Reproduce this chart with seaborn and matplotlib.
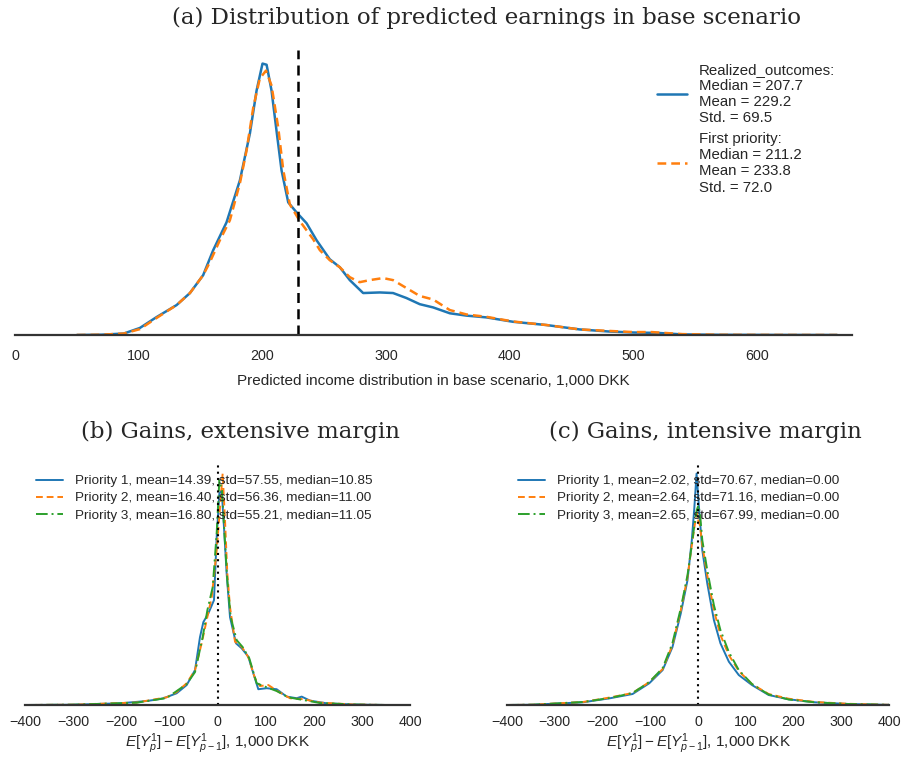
import numpy as np
import pandas as pd
import matplotlib
matplotlib.use("Agg")
import matplotlib.pyplot as plt
import seaborn as sns

# ---------------- Panel (a): predicted earnings, base scenario ----------------
# Kernel density estimates (density values in units of 1e-3 per 1,000 DKK)
income_realized = [50, 70, 88, 101, 114.5, 130.7, 141.5, 152.2, 160.3, 171.1, 181.9, 190,
                   195.4, 200.2, 203.5, 207.5, 211.5, 215.6, 221, 227.7, 235.8, 243.9, 254.6,
                   262.7, 270.8, 281.6, 295.1, 305.8, 316.6, 327.4, 338.2, 351.7, 365.2,
                   381.3, 402.9, 429.8, 456.7, 480, 500, 520, 540, 570, 620, 665]
density_realized = [0, 0.01, 0.05, 0.24, 0.61, 1.02, 1.43, 2.04, 2.89, 3.84, 5.27, 6.87,
                    8.33, 9.25, 9.21, 8.33, 6.97, 5.61, 4.52, 4.18, 3.81, 3.23, 2.58,
                    2.31, 1.87, 1.43, 1.45, 1.43, 1.26, 1.05, 0.94, 0.74, 0.66,
                    0.60, 0.45, 0.34, 0.19, 0.12, 0.085, 0.07, 0.02, 0.007, 0.002, 0]

income_first = [50, 70, 88, 101, 114.5, 130.7, 141.5, 152.2, 157.6, 165.7, 173.8, 181.9,
                187.3, 192.7, 198, 203, 207.5, 212.9, 217, 222.3, 230.4, 241.2, 246.6,
                254.6, 262.7, 270.8, 278.8, 286.9, 297.7, 305.8, 316.6, 327.4, 338.2,
                351.7, 365.2, 381.3, 402.9, 429.8, 456.7, 480, 500, 515, 540, 570, 620, 665]
density_first = [0, 0.01, 0.05, 0.20, 0.58, 1.02, 1.43, 2.04, 2.48, 3.23, 3.91, 5.17,
                 6.29, 7.75, 8.74, 9.01, 8.50, 7.07, 5.61, 4.45, 3.88, 3.26, 2.89,
                 2.55, 2.31, 1.97, 1.80, 1.87, 1.94, 1.87, 1.60, 1.33, 1.21,
                 0.85, 0.70, 0.62, 0.46, 0.34, 0.19, 0.14, 0.10, 0.10, 0.03, 0.007, 0.002, 0]

mean_realized = 229.2
labels_a = ["Realized_outcomes:\nMedian = 207.7\nMean = 229.2\nStd. = 69.5",
            "First priority:\nMedian = 211.2\nMean = 233.8\nStd. = 72.0"]

# ---------------- Panel (b): gains, extensive margin ----------------
ext_x1 = [-400, -300, -202.6, -147, -133, -112.5, -85, -64, -46.7, -36.4, -29.4, -19, -7.3,
          -1.7, 3.8, 8.7, 13.5, 19, 26, 38.4, 50.2, 64, 74.4, 84.8, 102, 122.9, 143.7,
          164.5, 174.9, 192.2, 226.8, 282, 351, 400]
ext_y1 = [0, 0.015, 0.085, 0.2, 0.25, 0.335, 0.585, 1.0, 1.75, 3.4, 4.15, 4.59, 5.25,
          8.4, 10.59, 10.75, 8.9, 6.59, 4.4, 3.09, 2.84, 2.42, 1.59, 0.79, 0.84, 0.79, 0.42,
          0.34, 0.42, 0.22, 0.085, 0.025, 0, 0]
ext_x2 = [-400, -300, -168, -105.6, -85, -64, -46.7, -32.9, -22.5, -12, -1.7, 5.2, 10.7,
          15.6, 20.4, 26, 36.4, 50.2, 64, 77.9, 88.3, 105.6, 126.4, 150.6, 178.3, 213, 282,
          351, 400]
ext_y2 = [0, 0.015, 0.125, 0.385, 0.65, 1.09, 1.75, 3.09, 4.25, 5.4, 7.75, 9.9, 11.59,
          9.25, 6.59, 4.9, 3.17, 2.92, 2.4, 1.34, 0.95, 1.0, 0.67, 0.34, 0.29, 0.12, 0.025,
          0, 0]
ext_x3 = [-400, -300, -168, -105.6, -64, -46.7, -30.8, -21, -10, -1.7, 3.8, 9.3, 14.9,
          20.4, 27.4, 39.8, 52.3, 66, 81.4, 98.7, 122.9, 147, 178.3, 213, 282, 351, 400]
ext_y3 = [0, 0.015, 0.115, 0.35, 1.05, 1.65, 3.4, 4.75, 5.9, 8.6, 11.25, 10.75, 8.4,
          6.25, 4.4, 3.25, 2.9, 2.34, 1.09, 0.92, 0.7, 0.385, 0.25, 0.1, 0.025, 0, 0]
labels_b = ["Priority 1, mean=14.39, std=57.55, median=10.85",
            "Priority 2, mean=16.40, std=56.36, median=11.00",
            "Priority 3, mean=16.80, std=55.21, median=11.05"]

# ---------------- Panel (c): gains, intensive margin ----------------
int_x1 = [-400, -345, -241, -185, -137, -102, -74, -53.5, -36, -22, -13, -7.6, -3, 2, 9,
          19.4, 33.3, 47, 64.6, 85.4, 113, 148, 190, 245, 315, 384, 400]
int_y1 = [0, 0.015, 0.135, 0.335, 0.55, 1.09, 1.75, 2.9, 4.59, 6.25, 8.25, 9.9, 11.59,
          9.9, 7.75, 6.09, 4.25, 3.09, 2.17, 1.5, 1.0, 0.5, 0.285, 0.135, 0.05, 0.015, 0.01]
int_x2 = [-400, -345, -241, -185, -137, -102, -74, -53.5, -36, -22, -13, -7.6, -2.8, 0.5,
          4, 9, 19.4, 33.3, 47, 64.6, 85.4, 113, 148, 190, 245, 315, 384, 400]
int_y2 = [0, 0.015, 0.15, 0.375, 0.6, 1.15, 1.8, 3.0, 4.75, 6.4, 8.0, 8.9, 9.6, 9.25,
          9.0, 8.0, 6.5, 4.75, 3.5, 2.5, 1.7, 1.05, 0.55, 0.315, 0.15, 0.06, 0.015, 0.01]
int_x3 = [-400, -345, -241, -185, -137, -102, -74, -53.5, -36, -22, -13, -7.6, -2.8, 1,
          4.5, 9, 19.4, 33.3, 47, 64.6, 85.4, 113, 148, 190, 245, 315, 384, 400]
int_y3 = [0, 0.015, 0.15, 0.35, 0.6, 1.15, 1.85, 3.1, 4.85, 6.5, 8.0, 9.0, 9.75, 10.0,
          9.5, 8.25, 6.75, 5.0, 3.75, 2.65, 1.75, 1.05, 0.525, 0.275, 0.135, 0.05, 0.015, 0.01]
labels_c = ["Priority 1, mean=2.02, std=70.67, median=0.00",
            "Priority 2, mean=2.64, std=71.16, median=0.00",
            "Priority 3, mean=2.65, std=67.99, median=0.00"]

# ---------------- Styling ----------------
sns.set_style("white")
plt.rcParams["font.family"] = ["Liberation Sans", "DejaVu Sans"]
plt.rcParams["mathtext.fontset"] = "custom"
plt.rcParams["mathtext.rm"] = "Liberation Sans"
plt.rcParams["mathtext.it"] = "Liberation Sans:italic"
plt.rcParams["axes.unicode_minus"] = True

palette = sns.color_palette("tab10")
blue, orange, green = palette[0], palette[1], palette[2]
styles = [(blue, "-"), (orange, (0, (3.5, 2.0))), (green, (0, (6, 2, 1, 2)))]

fig = plt.figure(figsize=(9.04, 7.6), dpi=100)
W, H = 904, 760
TXT = "#262626"


def rect(x0, y0, x1, y1):
    return [x0 / W, 1 - y1 / H, (x1 - x0) / W, (y1 - y0) / H]


def long_frame(series):
    frames = []
    for i, (xs, ys) in enumerate(series):
        frames.append(pd.DataFrame({"x": xs, "y": np.asarray(ys) * 1e-3, "series": i}))
    return pd.concat(frames, ignore_index=True)


def style_axis(ax, pad):
    sns.despine(ax=ax, left=True)
    ax.set_yticks([])
    ax.set_ylabel("")
    ax.spines["bottom"].set_color("#333333")
    ax.spines["bottom"].set_linewidth(1.6)
    ax.tick_params(axis="x", length=0, pad=pad, labelsize=10.3, colors=TXT)


def draw_lines(ax, df, lw):
    handles = []
    for i, grp in df.groupby("series"):
        c, ls = styles[i]
        sns.lineplot(data=grp, x="x", y="y", ax=ax, color=c, linestyle=ls,
                     linewidth=lw, sort=False, estimator=None)
        handles.append(ax.lines[-1])
    return handles


# ---- (a) ----
ax_a = fig.add_axes(rect(15, 50, 852, 335))
df_a = long_frame([(income_realized, density_realized), (income_first, density_first)])
h_a = draw_lines(ax_a, df_a, 1.8)
ax_a.axvline(mean_realized, color="black", linestyle=(0, (4, 2.5)), linewidth=1.8)
ax_a.set_xlim(0, 677)
ax_a.set_ylim(0, df_a["y"].max() * 1.05)
ax_a.set_xticks([0, 100, 200, 300, 400, 500, 600])
ax_a.set_xlabel("Predicted income distribution in base scenario, 1,000 DKK",
                fontsize=11, color=TXT, labelpad=8)
style_axis(ax_a, 10)
leg = ax_a.legend(h_a, labels_a, loc="upper left", bbox_to_anchor=(0.760, 0.977),
                  borderaxespad=0, frameon=False, fontsize=10.8, handlelength=2.0,
                  labelspacing=0.45, handletextpad=0.8)
for t in leg.get_texts():
    t.set_linespacing(1.2)
    t.set_color(TXT)

fig.text(487 / W, 1 - 18 / H, "(a) Distribution of predicted earnings in base scenario",
         family="DejaVu Serif", fontsize=16.5, ha="center", va="center")

# ---- (b) and (c) ----
panels = [
    (rect(25, 462, 410, 705), [(ext_x1, ext_y1), (ext_x2, ext_y2), (ext_x3, ext_y3)],
     labels_b, "(b) Gains, extensive margin", 240),
    (rect(507, 462, 889, 705), [(int_x1, int_y1), (int_x2, int_y2), (int_x3, int_y3)],
     labels_c, "(c) Gains, intensive margin", 705),
]
for r, series, labels, title, tx in panels:
    ax = fig.add_axes(r)
    df = long_frame(series)
    hs = draw_lines(ax, df, 1.4)
    ax.axvline(0, color="black", linestyle=(0, (1, 2)), linewidth=1.5)
    ax.set_xlim(-400, 400)
    ax.set_ylim(0, df["y"].max() * 1.05)
    ax.set_xticks(np.arange(-400, 401, 100))
    ax.set_xlabel(r"$E[Y_p^1] - E[Y_{p-1}^1]$, 1,000 DKK", fontsize=11,
                  color=TXT, labelpad=2)
    style_axis(ax, 7)
    lg = ax.legend(hs, labels, loc="upper left", bbox_to_anchor=(0.015, 0.969),
                   borderaxespad=0, frameon=False, fontsize=9.7, handlelength=2.0,
                   labelspacing=0.35, handletextpad=0.9)
    for t in lg.get_texts():
        t.set_color(TXT)
    fig.text(tx / W, 1 - 432 / H, title, family="DejaVu Serif", fontsize=16.5,
             ha="center", va="center")

fig.savefig("out.png", dpi=100, facecolor="white")
